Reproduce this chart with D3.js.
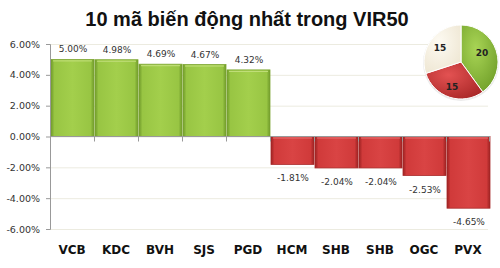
<html>
<script src='https://d3js.org/d3.v7.min.js'></script>
<style>
body {margin:0; background:#fff;}
text {font-family: "DejaVu Sans", Verdana, sans-serif;}
</style>
<body onload='init()'>
<svg width=500 height=268></svg>
<script>
var codes = ["VCB","KDC","BVH","SJS","PGD","HCM","SHB","SHB","OGC","PVX"];
var changes = [5.00, 4.98, 4.69, 4.67, 4.32, -1.81, -2.04, -2.04, -2.53, -4.65];
var yTicks = [-6, -4, -2, 0, 2, 4, 6];
var pieLabels = ["up", "down", "flat"];
var pieValues = [20, 15, 15];

function pct(d) { return d.toFixed(2) + "%"; }

function init() {
	var svg = d3.select("svg");
	var defs = svg.append("defs");

	function barGrad(id, dark, mid, light) {
		var g = defs.append("linearGradient").attr("id", id).attr("x1","0").attr("x2","1").attr("y1","0").attr("y2","0");
		g.append("stop").attr("offset","0%").attr("stop-color", dark);
		g.append("stop").attr("offset","8%").attr("stop-color", mid);
		g.append("stop").attr("offset","50%").attr("stop-color", light);
		g.append("stop").attr("offset","92%").attr("stop-color", mid);
		g.append("stop").attr("offset","100%").attr("stop-color", dark);
	}
	barGrad("gGreen", "#6f9a2a", "#98c543", "#a3cf4c");
	barGrad("gRed", "#9c2222", "#d03a3a", "#d94444");

	function pieGrad(id, c1, c2) {
		var g = defs.append("radialGradient").attr("id", id).attr("cx","40%").attr("cy","35%").attr("r","75%");
		g.append("stop").attr("offset","0%").attr("stop-color", c1);
		g.append("stop").attr("offset","100%").attr("stop-color", c2);
	}
	pieGrad("pGreen", "#a8d455", "#6f9e28");
	pieGrad("pRed", "#e35252", "#a82626");
	pieGrad("pCream", "#fdfaf2", "#eee6d2");

	var x = d3.scaleBand().domain(d3.range(codes.length)).range([50, 490]).padding(0);
	var y = d3.scaleLinear().domain([-6, 6]).range([229, 44]);

	// grid
	svg.append("g").selectAll("line").data(yTicks).enter().append("line")
		.attr("x1", 50).attr("x2", 488)
		.attr("y1", d => y(d) + 0.5).attr("y2", d => y(d) + 0.5)
		.attr("stroke", "#ecebe0");

	// bars
	svg.append("g").selectAll("rect").data(changes).enter().append("rect")
		.attr("x", (d,i) => x(i) + 1)
		.attr("width", x.bandwidth() - 1)
		.attr("y", d => y(Math.max(0, d)))
		.attr("height", d => Math.abs(y(d) - y(0)))
		.attr("fill", d => d >= 0 ? "url(#gGreen)" : "url(#gRed)")
		.attr("stroke", d => d >= 0 ? "#7da532" : "#a82a2a")
		.attr("stroke-width", 0.8);

	// top bevel highlight
	svg.append("g").selectAll("line").data(changes).enter().append("line")
		.attr("x1", (d,i) => x(i) + 3).attr("x2", (d,i) => x(i) + x.bandwidth() - 2)
		.attr("y1", d => d >= 0 ? y(d) + 1.5 : y(0) + 1.5)
		.attr("y2", d => d >= 0 ? y(d) + 1.5 : y(0) + 1.5)
		.attr("stroke", d => d >= 0 ? "#c4e07e" : "#e87070").attr("stroke-width", 1);

	// y axis
	var yAxis = svg.append("g").attr("transform", "translate(50,0)")
		.call(d3.axisLeft(y).tickValues(yTicks).tickSize(4).tickFormat(pct));
	yAxis.select(".domain").attr("stroke", "#999");
	yAxis.selectAll("line").attr("stroke", "#999");
	yAxis.selectAll("text").attr("x", -10).attr("fill", "#333").style("font-size", "9.5px").style("font-family", "DejaVu Sans");

	// zero axis with category boundary ticks
	var xAxis = svg.append("g").attr("transform", "translate(0," + y(0) + ")");
	xAxis.append("line").attr("x1", 50).attr("x2", 490).attr("stroke", "#999");
	xAxis.selectAll(".tk").data(d3.range(1, codes.length + 1)).enter().append("line")
		.attr("x1", i => i < codes.length ? x(i) + 0.5 : 489.5).attr("x2", i => i < codes.length ? x(i) + 0.5 : 489.5)
		.attr("y1", 0).attr("y2", 5).attr("stroke", "#999");

	// value labels
	svg.append("g").selectAll("text").data(changes).enter().append("text")
		.attr("x", (d,i) => x(i) + x.bandwidth() / 2 + 1)
		.attr("y", d => d >= 0 ? y(d) - 7 : y(d) + 17)
		.attr("text-anchor", "middle")
		.style("font-size", "9px").attr("fill", "#333")
		.text(pct);

	// category labels
	svg.append("g").selectAll("text").data(codes).enter().append("text")
		.attr("x", (d,i) => x(i) + x.bandwidth() / 2)
		.attr("y", 254)
		.attr("text-anchor", "middle")
		.style("font-size", "12px").style("font-weight", "bold").attr("fill", "#111")
		.text(d => d);

	// title
	svg.append("text").attr("x", 247).attr("y", 26).attr("text-anchor", "middle")
		.style("font-family", "Liberation Sans, Arial").style("font-size", "20px").style("font-weight", "bold")
		.attr("fill", "#111").text("10 mã biến động nhất trong VIR50");

	// pie
	var pie = d3.pie().sort(null).value(d => d)(pieValues);
	var arc = d3.arc().innerRadius(0).outerRadius(37);
	var fills = ["url(#pGreen)", "url(#pRed)", "url(#pCream)"];
	var pg = svg.append("g").attr("transform", "translate(461,62)");
	pg.append("circle").attr("r", 38).attr("fill", "#ddd").attr("opacity", 0.6).attr("transform", "translate(0,1)");
	pg.selectAll("path").data(pie).enter().append("path")
		.attr("d", arc).attr("fill", (d,i) => fills[i])
		.attr("stroke", "#fff").attr("stroke-width", 1);
	var labelPos = [[21, -9], [-9, 25], [-21, -14]];
	pg.selectAll(".pl").data(pie).enter().append("text")
		.attr("x", (d,i) => labelPos[i][0]).attr("y", (d,i) => labelPos[i][1] + 3)
		.attr("text-anchor", "middle")
		.style("font-size", "9px").style("font-weight", "bold").attr("fill", "#222")
		.text(d => d.data);
}
</script>
</body>
</html>
